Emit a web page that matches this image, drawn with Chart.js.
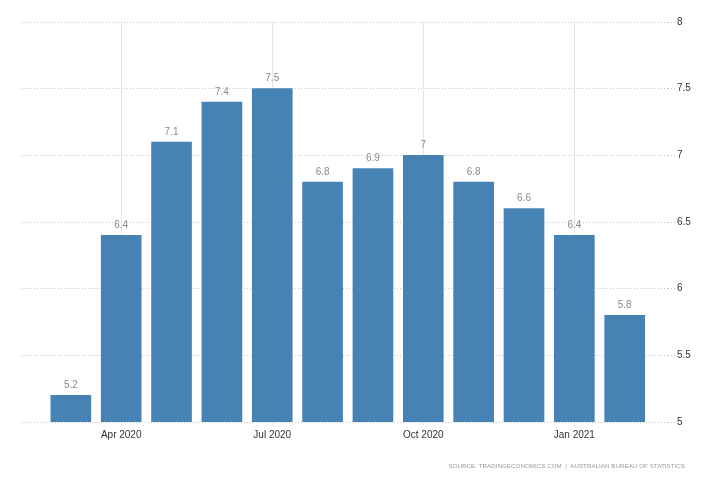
<!DOCTYPE html>
<html>
<head>
<meta charset="utf-8">
<script src="https://cdn.jsdelivr.net/npm/chart.js@4/dist/chart.umd.min.js"></script>
<style>
  html, body { margin: 0; padding: 0; background: #fff; }
  #wrap { position: relative; width: 728px; height: 485px; }
  #source {
    position: absolute; right: 43px; top: 462px;
    font: 6.2px "Liberation Sans", Arial, sans-serif; letter-spacing: 0.05px;
    color: #9a9a9a; white-space: nowrap;
  }
</style>
</head>
<body>
<div id="wrap">
  <canvas id="chart" width="728" height="485"></canvas>
  <div id="source">SOURCE: TRADINGECONOMICS.COM &nbsp;|&nbsp; AUSTRALIAN BUREAU OF STATISTICS</div>
</div>
<script>
// monthly values, Mar 2020 .. Feb 2021
const months = ['Mar 2020', 'Apr 2020', 'May 2020', 'Jun 2020', 'Jul 2020', 'Aug 2020',
  'Sep 2020', 'Oct 2020', 'Nov 2020', 'Dec 2020', 'Jan 2021', 'Feb 2021'];
const values = [5.2, 6.4, 7.1, 7.4, 7.5, 6.8, 6.9, 7, 6.8, 6.6, 6.4, 5.8];
const tickMonths = ['Apr 2020', 'Jul 2020', 'Oct 2020', 'Jan 2021'];
const yTicks = [5, 5.5, 6, 6.5, 7, 7.5, 8];

const FONT = '"Liberation Sans", Arial, sans-serif';

// little plugin to write the value above each bar
const valueLabels = {
  id: 'valueLabels',
  afterDatasetsDraw(chart) {
    const ctx = chart.ctx;
    const meta = chart.getDatasetMeta(0);
    ctx.save();
    ctx.font = '10px ' + FONT;
    ctx.fillStyle = '#8a8a8a';
    ctx.textAlign = 'center';
    ctx.textBaseline = 'bottom';
    meta.data.forEach((bar, i) => {
      ctx.fillText(String(values[i]), bar.x, bar.y - 5);
    });
    ctx.restore();
  }
};

const points = values.map((v, i) => ({ x: i, y: v }));

new Chart(document.getElementById('chart'), {
  type: 'bar',
  data: {
    datasets: [{
      data: points,
      backgroundColor: '#4682b4',
      borderWidth: 0,
      barThickness: 40
    }]
  },
  options: {
    responsive: false,
    animation: false,
    layout: { padding: { top: 22, left: 22, right: 0, bottom: 0 } },
    plugins: { legend: { display: false }, tooltip: { enabled: false } },
    scales: {
      x: {
        type: 'linear',
        offset: false,
        min: -0.97,
        max: 11.86,
        afterBuildTicks: scale => {
          scale.ticks = tickMonths.map(m => ({ value: months.indexOf(m) }));
        },
        afterFit: scale => { scale.height = 63; },
        ticks: {
          callback: v => months[v],
          color: '#333',
          font: { family: FONT, size: 10 },
          padding: 3,
          maxRotation: 0
        },
        grid: { offset: false, color: '#e6e6e6', tickLength: 4 },
        border: { display: false }
      },
      y: {
        position: 'right',
        min: 5,
        max: 8,
        afterBuildTicks: scale => {
          scale.ticks = yTicks.map(v => ({ value: v }));
        },
        afterFit: scale => { scale.width = 60; },
        ticks: {
          callback: v => String(v),
          color: '#333',
          font: { family: FONT, size: 10 },
          padding: 2
        },
        grid: { color: '#c8c8c8', tickLength: 7, tickBorderDash: [1, 2] },
        border: { display: false, dash: [1, 2] }
      }
    }
  },
  plugins: [valueLabels]
});
</script>
</body>
</html>
